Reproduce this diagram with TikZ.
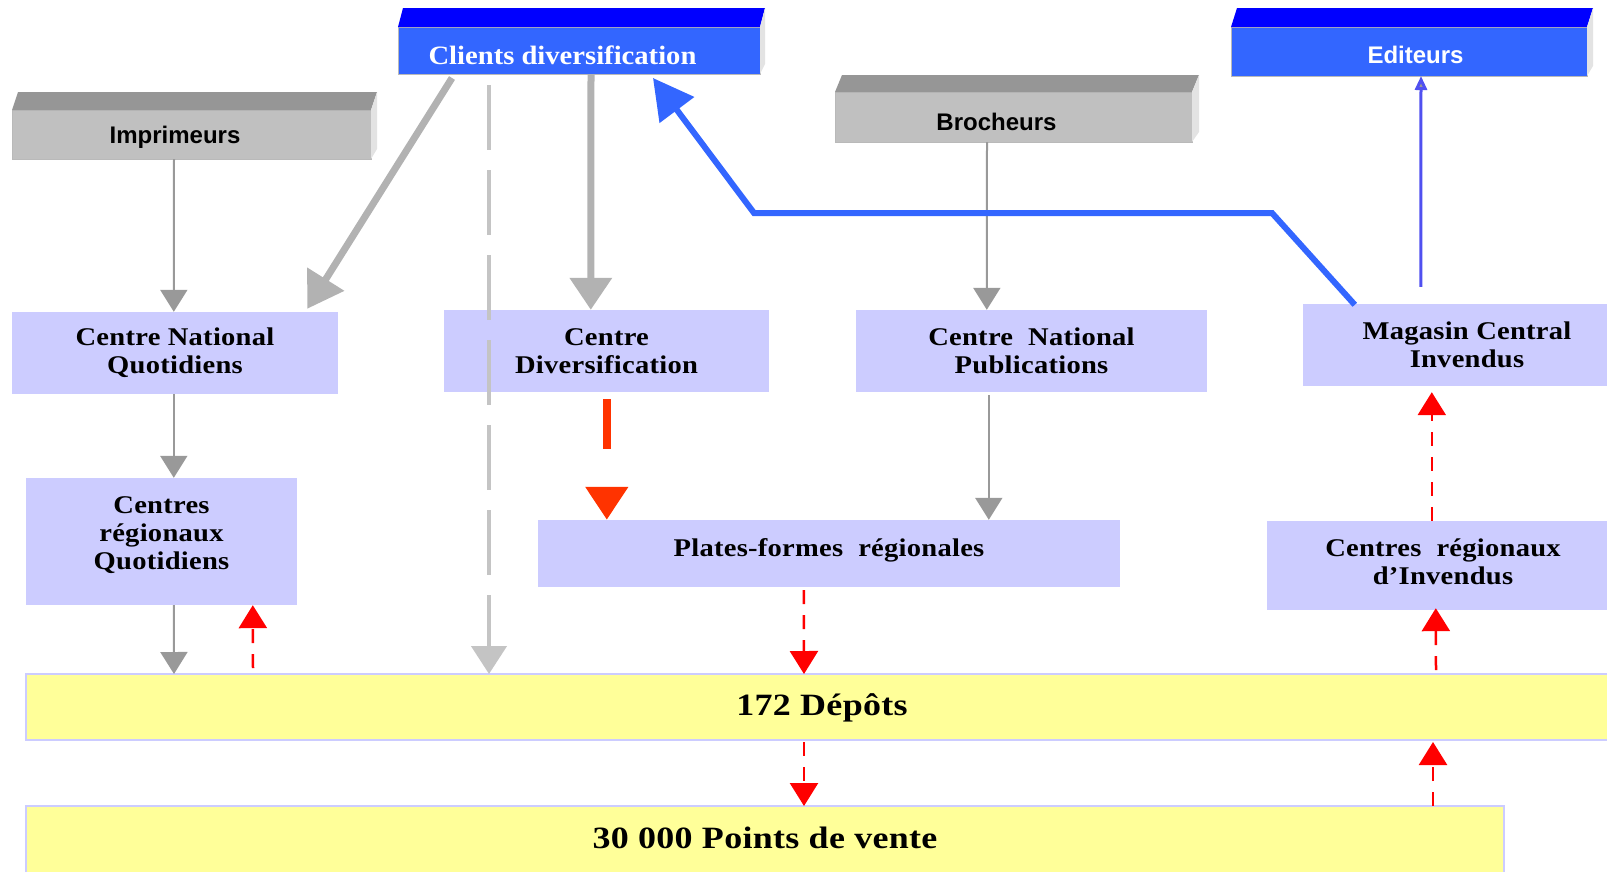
\documentclass[tikz,border=0pt]{standalone}
\usepackage{fontspec}
\usetikzlibrary{arrows.meta,calc}
\newfontfamily\tnr[LetterSpace=1,FakeStretch=1.12]{Liberation Serif}
\newfontfamily\tnry[LetterSpace=1,FakeStretch=1.16]{Liberation Serif}
\newfontfamily\tnrc[FakeStretch=1.08]{Liberation Serif}
\newfontfamily\ars{Liberation Sans}
\definecolor{lav}{HTML}{CCCCFF}
\definecolor{yel}{HTML}{FFFF99}
\definecolor{bfront}{HTML}{3366FF}
\definecolor{btop}{HTML}{0000FF}
\definecolor{gfront}{HTML}{C0C0C0}
\definecolor{gtop}{HTML}{969696}
\definecolor{sideface}{HTML}{E3E3E3}
\definecolor{dgray}{HTML}{999999}
\definecolor{lgray}{HTML}{C4C4C4}
\definecolor{mgray}{HTML}{B2B2B2}
\definecolor{ored}{HTML}{FF3300}
\definecolor{rred}{HTML}{FF0000}
\definecolor{bline}{HTML}{3366FF}
\definecolor{tblue}{HTML}{5050F0}
\newcommand\cubefaces[4]{%
  \fill[#2] (#1.north west) -- ++(#3,-#4) -- ($(#1.north east)+(#3,-#4)$) -- (#1.north east) -- cycle;
  \fill[sideface] (#1.north east) -- ++(#3,-#4) -- ($(#1.south east)+(#3,-10)$) -- (#1.south east) -- cycle;}
\newcommand\lowered[2]{\raisebox{#1}[0pt][0pt]{#2}}
\begin{document}
\begin{tikzpicture}[x=1pt,y=-1pt,
  purplebox/.style={fill=lav, inner sep=0pt, align=center, font=\tnr\bfseries\fontsize{25.5}{28}\selectfont},
  yellowbox/.style={fill=yel, draw=lav, line width=2pt, inner sep=0pt, outer sep=0pt, font=\tnry\bfseries\fontsize{31}{34}\selectfont},
  graycube/.style={fill=gfront, draw=gray!55, line width=1pt, inner sep=0pt, outer sep=0pt, font=\ars\bfseries\fontsize{24}{28}\selectfont},
  bluecube/.style={fill=bfront, draw=gray!55, line width=1pt, inner sep=0pt, outer sep=0pt, text=white},
  thingray/.style={draw=dgray, line width=2pt, -{Triangle[length=22pt,width=27pt]}, color=dgray},
  reddash/.style={draw=rred, line width=2.5pt, dash pattern=on 14pt off 11pt, -{Triangle[length=23pt,width=28pt]}, color=rred},
  thickgray/.style={draw=mgray, line width=7pt, color=mgray},
]
\useasboundingbox (0,0) rectangle (1607,871);
\clip (0,0) rectangle (1607,871);

% top cubes
\node[graycube, minimum width=359pt, minimum height=49pt] (imp) at (191.5,134.5) {\lowered{-8.5pt}{Imprimeurs}\hspace*{33pt}};
\cubefaces{imp}{gtop}{6}{18}
\node[bluecube, minimum width=362pt, minimum height=47pt, font=\tnrc\bfseries\fontsize{26.5}{28}\selectfont] (cli) at (579,50.5) {\lowered{-14pt}{Clients diversification}\hspace*{33pt}};
\cubefaces{cli}{btop}{5}{19}
\node[graycube, minimum width=357pt, minimum height=50pt] (bro) at (1013.5,117) {\lowered{-13pt}{Brocheurs}\hspace*{34pt}};
\cubefaces{bro}{gtop}{7}{17}
\node[bluecube, minimum width=356pt, minimum height=49pt, font=\ars\bfseries\fontsize{24}{28}\selectfont] (edi) at (1409,51.5) {\hspace*{13pt}\lowered{-11.5pt}{Editeurs}};
\cubefaces{edi}{btop}{6}{19}

% purple boxes
\node[purplebox, minimum width=326pt, minimum height=82pt] (cnq) at (175,353) {Centre National\\Quotidiens};
\node[purplebox, minimum width=325pt, minimum height=82pt] (cd) at (606.5,351) {Centre\\Diversification};
\node[purplebox, minimum width=351pt, minimum height=82pt] (cnp) at (1031.5,351) {Centre\hspace{0.3em} National\\Publications};
\node[purplebox, minimum width=328pt, minimum height=82pt] (mag) at (1467,345) {Magasin Central\\Invendus};
\node[purplebox, minimum width=271pt, minimum height=127pt] (crq) at (161.5,541.5) {Centres\\régionaux\\Quotidiens\\[-12pt]\mbox{}};
\node[purplebox, minimum width=582pt, minimum height=67pt] (pf) at (829,553.5) {Plates-formes\hspace{0.3em} régionales\\[-16pt]\mbox{}};
\node[purplebox, minimum width=352pt, minimum height=89pt] (cri) at (1443,565.5) {Centres\hspace{0.3em} régionaux\\d’Invendus\\[-20pt]\mbox{}};

% yellow boxes
\node[yellowbox, minimum width=1592pt, minimum height=66pt] (dep) at (822,707) {\lowered{-8pt}{172 Dépôts}};
\node[yellowbox, minimum width=1478pt, minimum height=68pt] (pv) at (765,840) {\lowered{-8pt}{30 000 Points de vente}};

% bend points
\coordinate (b1) at (1272,213);
\coordinate (b2) at (754,213);

% gray connectors
\draw[thingray] ($(imp.south west)+(162,0)$) -- ($(cnq.north west)+(162,0)$);
\draw[thingray] ($(cnq.south west)+(162,0)$) -- ($(crq.north west)+(148,0)$);
\draw[thingray] ($(crq.south west)+(148,0)$) -- ($(dep.north west)+(148,0)$);
\draw[thingray] ($(bro.south west)+(152,0)$) -- ($(cnp.north west)+(131,0)$);
\draw[thingray] ($(cnp.south west)+(133,3)$) -- ($(pf.north west)+(451,0)$);

% light gray dashed
\draw[draw=lgray, line width=4.5pt, dash pattern=on 65pt off 20pt, color=lgray, -{Triangle[length=28pt,width=35pt]}] ($(cli.south west)+(91,11)$) -- ($(dep.north west)+(463,0)$);

% thick gray
\draw[thickgray, -{Triangle[length=35pt,width=42pt]}] ($(cli.south west)+(54,4)$) -- ($(cnq.north east)+(-31,-3)$);
\draw[thickgray, -{Triangle[length=32pt,width=41pt]}] ($(cli.south west)+(193,0)$) -- ($(cd.north west)+(147,0)$);

% orange-red
\draw[draw=ored, line width=8pt, dash pattern=on 50pt off 100pt, color=ored, -{Triangle[length=33pt,width=41pt]}] ($(cd.south west)+(163,7)$) -- ($(pf.north west)+(69,0)$);

% red dashed
\draw[reddash] ($(dep.north west)+(227,-6)$) -- ($(crq.south west)+(227,0)$);
\draw[reddash] ($(pf.south west)+(266,3)$) -- ($(dep.north west)+(778,0)$);
\draw[reddash] ($(dep.south west)+(778,2)$) -- ($(pv.north west)+(778,0)$);
\draw[reddash] ($(pv.north west)+(1407,0)$) -- ($(dep.south west)+(1407,2)$);
\draw[reddash] ($(dep.north west)+(1410,-4)$) -- ($(cri.south west)+(169,-2)$);
\draw[reddash] ($(cri.north west)+(165,0)$) -- ($(mag.south west)+(129,6)$);

% thin blue to Editeurs
\draw[draw=tblue, line width=3pt, -{Triangle[length=14pt,width=12pt,fill=dgray]}, color=tblue] ($(mag.north west)+(118,-17)$) -- ($(edi.south west)+(190,0)$);

% thick blue polyline
\draw[draw=bline, line width=6pt, color=bline, -{Triangle[length=40pt,width=42pt]}] ($(mag.north west)+(52,1)$) -- (b1) -- (b2) -- ($(cli.south west)+(255,4)$);
\end{tikzpicture}
\end{document}
